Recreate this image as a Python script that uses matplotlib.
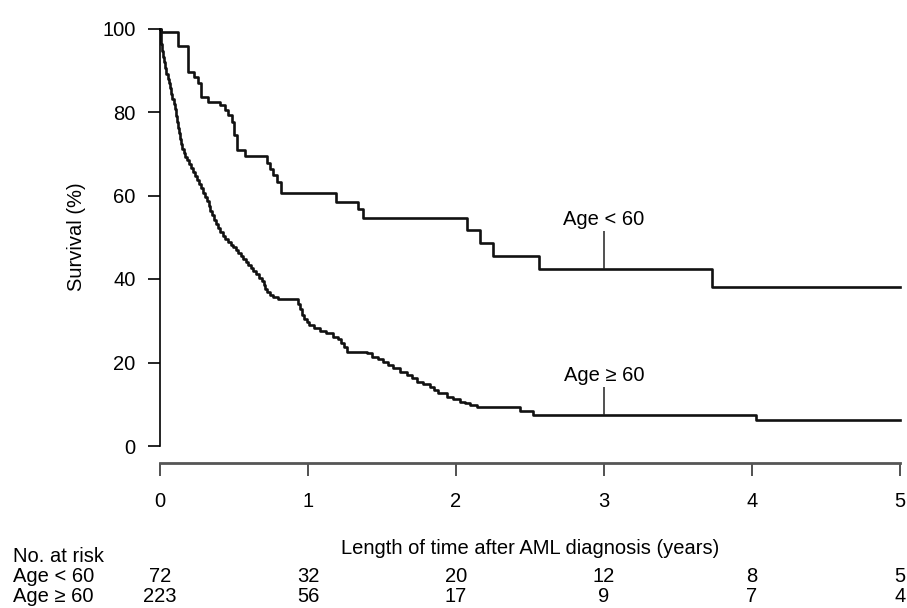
import numpy as np
import matplotlib
matplotlib.use('Agg')
import matplotlib.pyplot as plt

plt.rcParams['font.family'] = ['Liberation Sans', 'DejaVu Sans']

# Kaplan-Meier step points (years, survival %)
t_young = [0, 0.008, 0.124, 0.191, 0.232, 0.259, 0.279, 0.326, 0.405, 0.44, 0.46,
           0.489, 0.503, 0.518, 0.574, 0.72, 0.743, 0.766, 0.788, 0.82, 1.19,
           1.34, 1.37, 2.072, 2.162, 2.252, 2.563, 3.728, 5.0]
s_young = [100, 99.1, 95.9, 89.7, 88.5, 86.9, 83.7, 82.5, 81.7, 80.5, 79.3,
           77.7, 74.5, 70.9, 69.5, 67.9, 66.3, 64.9, 63.3, 60.5, 58.5,
           56.7, 54.7, 51.7, 48.7, 45.5, 42.3, 38.0, 38.0]

t_old = [0, 0.004, 0.008, 0.014, 0.020, 0.027, 0.035, 0.043, 0.051, 0.060, 0.068,
         0.076, 0.084, 0.092, 0.101, 0.108, 0.115, 0.122, 0.130, 0.137, 0.145,
         0.152, 0.160, 0.172, 0.185, 0.198, 0.210, 0.222, 0.236, 0.250, 0.262,
         0.275, 0.290, 0.303, 0.316, 0.328, 0.340, 0.352, 0.365, 0.378, 0.392,
         0.408, 0.425, 0.442, 0.46, 0.478, 0.495, 0.512, 0.530, 0.547, 0.563,
         0.58, 0.597, 0.613, 0.63, 0.648, 0.668, 0.687, 0.70, 0.71, 0.725,
         0.745, 0.766, 0.80, 0.93, 0.945, 0.957, 0.97, 0.99, 1.01, 1.04,
         1.08, 1.12, 1.17, 1.20, 1.225, 1.245, 1.265, 1.40, 1.43, 1.47,
         1.51, 1.54, 1.576, 1.62, 1.667, 1.70, 1.734, 1.78, 1.824, 1.85,
         1.88, 1.937, 1.98, 2.027, 2.06, 2.095, 2.14, 2.43, 2.52, 4.03, 5.0]
s_old = [100, 98.2, 96.4, 94.6, 93.2, 91.9, 90.6, 89.2, 88.0, 86.9, 85.7,
         84.3, 83.0, 81.9, 80.7, 79.1, 77.6, 76.2, 75.0, 73.6, 72.3,
         71.2, 70.2, 69.3, 68.5, 67.5, 66.6, 65.7, 64.7, 63.7, 62.7,
         61.7, 60.6, 59.6, 58.7, 57.6, 56.4, 55.3, 54.2, 53.2, 52.3,
         51.3, 50.3, 49.5, 48.8, 48.2, 47.6, 46.9, 46.3, 45.6, 44.8,
         44.0, 43.3, 42.6, 41.9, 41.1, 40.3, 39.5, 38.6, 37.6, 36.8,
         36.1, 35.6, 35.2, 34.0, 32.8, 31.4, 30.4, 29.6, 29.0, 28.3,
         27.6, 27.0, 26.2, 25.6, 24.6, 23.6, 22.6, 22.2, 21.4, 20.8,
         20.2, 19.4, 18.6, 17.8, 17.0, 16.2, 15.4, 14.8, 14.2, 13.4,
         12.6, 11.8, 11.2, 10.6, 10.2, 9.8, 9.3, 8.4, 7.4, 6.2, 6.2]

group_labels = ['Age < 60', 'Age \u2265 60']
label_year = 3
label_line_top = [51.6, 14.2]
label_text_y = [54.3, 17.0]

risk_years = [0, 1, 2, 3, 4, 5]
risk_young = [72, 32, 20, 12, 8, 5]
risk_old = [223, 56, 17, 9, 7, 4]

x_ticks = [0, 1, 2, 3, 4, 5]
y_ticks = [0, 20, 40, 60, 80, 100]

W, H = 907, 608
fig = plt.figure(figsize=(W / 100, H / 100), dpi=100, facecolor='white')
ax = fig.add_axes([160 / W, 1 - 446 / H, 740 / W, (446 - 28.5) / H])

FS = 14.5
ax.step(t_young, s_young, where='post', color='#111111', lw=1.9, clip_on=False)
ax.step(t_old, s_old, where='post', color='#111111', lw=1.9, clip_on=False)

# curve labels with a short vertical pointer
for lab, tt, ss, top, ty in zip(group_labels, [t_young, t_old], [s_young, s_old],
                                 label_line_top, label_text_y):
    idx = np.searchsorted(tt, label_year, side='right') - 1
    ax.vlines(label_year, ss[idx], top, color='#222222', lw=1.1)
    ax.text(label_year, ty, lab, ha='center', va='center', fontsize=FS)

ax.set_xlim(0, 5)
ax.set_ylim(0, 100)
ax.set_xticks(x_ticks)
ax.set_yticks(y_ticks)
for s in ['top', 'right']:
    ax.spines[s].set_visible(False)
ax.spines['left'].set_linewidth(1.2)
ax.spines['bottom'].set_position(('outward', 12.5))
ax.spines['bottom'].set_color('#555555')
ax.spines['bottom'].set_linewidth(2.0)
ax.tick_params(axis='y', length=8.6, width=1.2, pad=9.0, labelsize=FS)
ax.tick_params(axis='x', length=9.5, width=1.2, pad=11, labelsize=FS,
               color='#333333')

fig.text(77 / W, 1 - 237 / H, 'Survival (%)', rotation=90, ha='center',
         va='center', fontsize=FS)
fig.text(530 / W, 1 - 549 / H, 'Length of time after AML diagnosis (years)',
         ha='center', va='center', fontsize=FS)

# number-at-risk table
fig.text(13 / W, 1 - 557 / H, 'No. at risk', ha='left', va='center', fontsize=FS)
for row_y, lab, counts in zip([577, 596], group_labels, [risk_young, risk_old]):
    fig.text(13 / W, 1 - row_y / H, lab, ha='left', va='center', fontsize=FS)
    for yr, n in zip(risk_years, counts):
        xf = ax.transData.transform((yr, 0))[0] / W
        fig.text(xf, 1 - row_y / H, str(n), ha='center', va='center', fontsize=FS)

fig.savefig('out.png', dpi=100, facecolor='white')
